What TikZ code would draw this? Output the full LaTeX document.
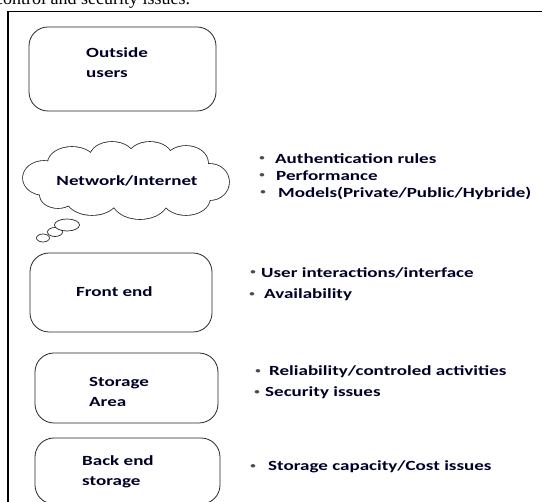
\documentclass[tikz,border=0pt]{standalone}
\usepackage{fontspec}
\setmainfont{Carlito}[FakeStretch=1.36]
\newfontfamily\pagefont{Liberation Serif}
\usetikzlibrary{shapes.geometric}
\begin{document}
\begin{tikzpicture}[x=1pt,y=-1pt,
  box/.style={draw=black!85, line width=0.8pt, rounded corners=19pt, inner sep=0pt},
  lbl/.style={font=\fontsize{14}{20}\selectfont\bfseries, align=left, inner sep=0pt, anchor=west, text=black!85!blue},
  bul/.style={font=\fontsize{8}{8}\selectfont\bfseries, inner sep=0pt, text=black!70},
  bubble/.style={draw=black!85, line width=0.7pt, fill=white, ellipse, inner sep=0pt},
  lobeline/.style={draw=black!85, line width=1.6pt},
  lobefill/.style={fill=white}]
\useasboundingbox (0,0) rectangle (542,502);
\clip (0,0) rectangle (542,502);
% page text above the frame
\node[anchor=base west, inner sep=0pt, font=\pagefont\fontsize{18}{18}\selectfont] (pagetext) at (-5,5) {control and security issues.};
% frame
\draw[line width=1.6pt] (8,560) -- (8,11.5) -- (580,11.5);
% boxes
\node[box, minimum width=187pt, minimum height=84pt] (users) at (122.5,69) {};
\node[lbl] (userst) at (86,63) {Outside\\users};
% cloud: outline of overlapping lobes
\def\lobes{72/163/24/16, 112/157/22/15, 150/157/22/15, 186/163/22/17, 210/182/19/18, 186/198/24/17, 140/200/28/19, 92/198/26/17, 58/195/18/13, 44/178/21/17, 126/180/80/25}
\foreach \cx/\cy/\rx/\ry in \lobes
  \path[lobeline] (\cx,\cy) ellipse [x radius=\rx pt, y radius=\ry pt];
\foreach \cx/\cy/\rx/\ry in \lobes
  \path[lobefill] (\cx,\cy) ellipse [x radius=\rx pt, y radius=\ry pt];
\node[lbl, anchor=center] (net) at (127,181) {Network/Internet};
\node[bubble, minimum width=13pt, minimum height=8pt] (b3) at (43,238) {};
\node[bubble, minimum width=15pt, minimum height=9pt] (b2) at (55,232) {};
\node[bubble, minimum width=25pt, minimum height=12pt] (b1) at (67,225) {};
\node[box, minimum width=182pt, minimum height=79pt] (front) at (121,292.5) {};
\node[lbl] (frontt) at (76,292) {Front end};
\node[box, minimum width=183pt, minimum height=70pt] (storage) at (126.5,388) {};
\node[lbl] (storaget) at (89,392) {Storage\\Area};
\node[box, minimum width=185pt, minimum height=66pt] (back) at (127.5,471) {};
\node[lbl] (backt) at (82,471.5) {Back end\\storage};
% bullet lists
\node[bul] (d1) at (262,159) {•};
\node[lbl] (t1) at (275,159) {Authentication rules};
\node[bul] (d2) at (262,176) {•};
\node[lbl] (t2) at (276,176) {Performance};
\node[bul] (d3) at (263,193) {•};
\node[lbl] (t3) at (278,193) {Models(Private/Public/Hybride)};
\node[bul] (d4) at (253,273) {•};
\node[lbl] (t4) at (261,273) {User interactions/interface};
\node[bul] (d5) at (252,295) {•};
\node[lbl] (t5) at (264,295) {Availability};
\node[bul] (d6) at (258,372) {•};
\node[lbl] (t6) at (269,372) {Reliability/controled activities};
\node[bul] (d7) at (257,393) {•};
\node[lbl] (t7) at (265,393) {Security issues};
\node[bul] (d8) at (253,467) {•};
\node[lbl] (t8) at (268,467) {Storage capacity/Cost issues};
\end{tikzpicture}
\end{document}
